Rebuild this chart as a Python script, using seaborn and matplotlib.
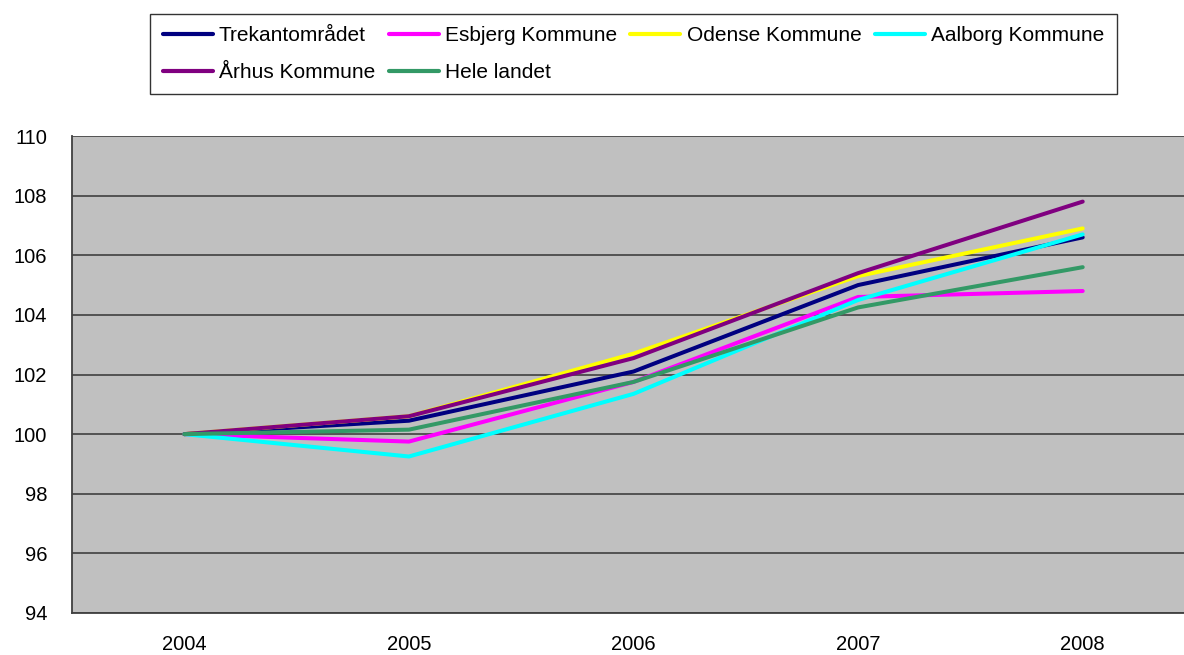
import matplotlib
matplotlib.use("Agg")
import matplotlib.pyplot as plt
import pandas as pd
import seaborn as sns

years = ["2004", "2005", "2006", "2007", "2008"]
series_names = ["Trekantområdet", "Esbjerg Kommune", "Odense Kommune",
                "Aalborg Kommune", "Århus Kommune", "Hele landet"]
trekant = [100.0, 100.45, 102.1, 105.0, 106.6]
esbjerg = [100.0, 99.75, 101.75, 104.6, 104.8]
odense = [100.0, 100.6, 102.7, 105.3, 106.9]
aalborg = [100.0, 99.25, 101.35, 104.5, 106.7]
aarhus = [100.0, 100.6, 102.55, 105.4, 107.8]
hele_landet = [100.0, 100.15, 101.75, 104.25, 105.6]
colors = ["#000080", "#FF00FF", "#FFFF00", "#00FFFF", "#800080", "#339966"]

values = [trekant, esbjerg, odense, aalborg, aarhus, hele_landet]
df = pd.DataFrame(
    [(name, i, v) for name, vals in zip(series_names, values) for i, v in enumerate(vals)],
    columns=["serie", "pos", "indeks"],
)

sns.set_theme(style="white")
plt.rcParams["font.family"] = ["Liberation Sans", "DejaVu Sans"]
plt.rcParams["text.color"] = "black"

fig = plt.figure(figsize=(11.84, 6.55), dpi=100)
ax = fig.add_axes([72 / 1184, 42 / 655, 1123 / 1184, 477 / 655])
ax.set_facecolor("#C0C0C0")

sns.lineplot(data=df, x="pos", y="indeks", hue="serie", hue_order=series_names,
             palette=colors, linewidth=2.9, ax=ax, legend=False, zorder=3)

ax.set_xlim(-0.5, 4.5)
ax.set_ylim(94, 110)
ax.set_yticks(range(94, 111, 2))
ax.yaxis.grid(True, color="#404040", linewidth=1.2)
ax.set_axisbelow(True)

ax.set_xticks(range(len(years)))
ax.set_xticklabels(years)
ax.set_xticks([p - 0.5 for p in range(len(years) + 1)], minor=True)
ax.tick_params(axis="x", which="major", length=0, pad=16, labelsize=14.5, labelcolor="black")
ax.tick_params(axis="x", which="minor", length=6, width=1, color="#404040", direction="out")
ax.tick_params(axis="y", length=6, width=1, color="#404040", direction="out",
               labelsize=14.5, pad=12, labelcolor="black")
ax.set_xlabel("")
ax.set_ylabel("")

for side in ["top", "right"]:
    ax.spines[side].set_visible(False)
for side in ["left", "bottom"]:
    ax.spines[side].set_color("#404040")
    ax.spines[side].set_linewidth(1.3)

# matplotlib fills legend columns first, so reorder to read row by row
order = [0, 4, 1, 5, 2, 3]
handles = [plt.Line2D([], [], color=colors[i], linewidth=3) for i in order]
labels = [series_names[i] for i in order]
leg = fig.legend(handles, labels, ncol=4, loc="center",
                 bbox_to_anchor=(150 / 1184, 1 - 96 / 655, 967 / 1184, 84 / 655),
                 mode="expand", fontsize=15, frameon=True, fancybox=False,
                 edgecolor="black", handlelength=2.4, handletextpad=0.3,
                 labelspacing=0.85, borderaxespad=0, borderpad=0.6, columnspacing=0.5,
                 labelcolor="black")
leg.get_frame().set_linewidth(1)

fig.savefig("out.png", dpi=100)
